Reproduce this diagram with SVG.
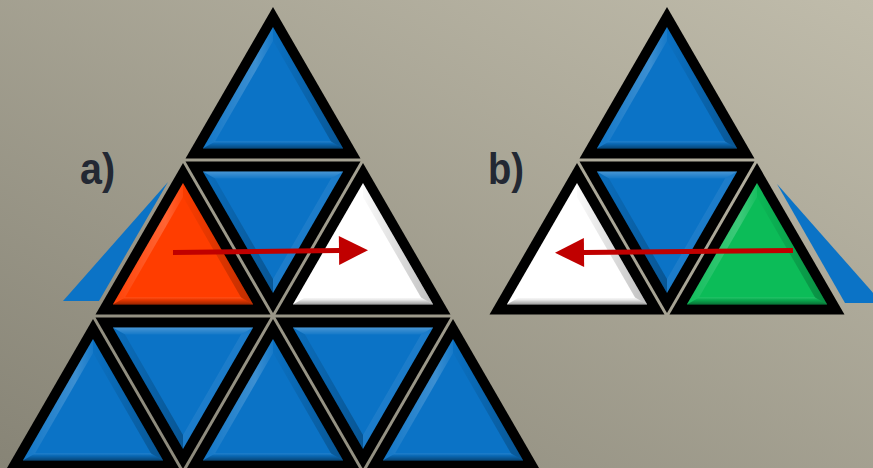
<svg xmlns="http://www.w3.org/2000/svg" xmlns:xlink="http://www.w3.org/1999/xlink" width="873" height="468" viewBox="0 0 873 468">
<style>
.lbl{font-family:"Liberation Sans","DejaVu Sans",sans-serif;font-weight:bold;font-size:45px;fill:#232833}
.blue{fill:#0b73c6}
.red{fill:#ff3d00}
.white{fill:#ffffff}
.green{fill:#0cbc58}
.arrow{stroke:#c00000;stroke-width:5;fill:none}
</style>
<defs>
<linearGradient id="bg" x1="1" y1="0" x2="0" y2="1">
<stop offset="0" stop-color="#c0bcab"/>
<stop offset="1" stop-color="#878476"/>
</linearGradient>
<linearGradient id="gBottom" x1="0" y1="0" x2="0" y2="1">
<stop offset="0" stop-color="#fff" stop-opacity="0.12"/>
<stop offset="0.3" stop-color="#000" stop-opacity="0.08"/>
<stop offset="1" stop-color="#000" stop-opacity="0.4"/>
</linearGradient>
<linearGradient id="gRight" x1="1" y1="0" x2="0" y2="0">
<stop offset="0" stop-color="#000" stop-opacity="0.25"/>
<stop offset="1" stop-color="#000" stop-opacity="0.02"/>
</linearGradient>
<linearGradient id="gLeft" x1="0" y1="0" x2="1" y2="0">
<stop offset="0" stop-color="#fff" stop-opacity="0.03"/>
<stop offset="0.75" stop-color="#fff" stop-opacity="0.2"/>
<stop offset="1" stop-color="#fff" stop-opacity="0.05"/>
</linearGradient>
<linearGradient id="gTop" x1="0" y1="0" x2="0" y2="1">
<stop offset="0" stop-color="#fff" stop-opacity="0.25"/>
<stop offset="1" stop-color="#fff" stop-opacity="0.04"/>
</linearGradient>
<linearGradient id="gDLeft" x1="0" y1="0" x2="1" y2="0">
<stop offset="0" stop-color="#000" stop-opacity="0.04"/>
<stop offset="1" stop-color="#000" stop-opacity="0.25"/>
</linearGradient>
<g id="tileUp">
<polygon points="0,-101 -87.47,50.5 87.47,50.5" fill="#000"/>
<polygon points="0,-81 -70.15,40.5 70.15,40.5"/>
<polygon points="0,-81 -70.15,40.5 -58.02,33.5 0,-67" fill="url(#gLeft)"/>
<polygon points="0,-81 70.15,40.5 58.02,33.5 0,-67" fill="url(#gRight)"/>
<polygon points="-70.15,40.5 70.15,40.5 58.02,33.5 -58.02,33.5" fill="url(#gBottom)"/>
</g>
<g id="tileDown">
<polygon points="-87.47,-50.5 87.47,-50.5 0,101" fill="#000"/>
<polygon points="-70.15,-40.5 70.15,-40.5 0,81"/>
<polygon points="-70.15,-40.5 70.15,-40.5 58.02,-33.5 -58.02,-33.5" fill="url(#gTop)"/>
<polygon points="-70.15,-40.5 0,81 0,67 -58.02,-33.5" fill="url(#gDLeft)"/>
<polygon points="70.15,-40.5 0,81 0,67 58.02,-33.5" fill="#fff" fill-opacity="0.07"/>
</g>
<marker id="head" markerUnits="userSpaceOnUse" markerWidth="30" markerHeight="30" viewBox="0 -15 30 30" refX="0" refY="0" orient="auto" overflow="visible">
<path d="M0,-14.5 L29,0 L0,14.5 z" fill="#c00000"/>
</marker>
</defs>
<rect width="873" height="468" fill="url(#bg)"/>

<g id="label-a"><text class="lbl" x="80" y="184" textLength="35" lengthAdjust="spacingAndGlyphs">a)</text></g>
<g id="label-b"><text class="lbl" x="488" y="184" textLength="36" lengthAdjust="spacingAndGlyphs">b)</text></g>

<g id="wedge-a"><polygon class="blue" points="168,182 63,301 99,301"/></g>
<g id="wedge-b"><polygon class="blue" points="777,184 882,303 845,303"/></g>

<g id="a-top"><use xlink:href="#tileUp" class="blue" transform="translate(273,108)"/></g>
<g id="a-red"><use xlink:href="#tileUp" class="red" transform="translate(183,264)"/></g>
<g id="a-mid"><use xlink:href="#tileDown" class="blue" transform="translate(273,212)"/></g>
<g id="a-white"><use xlink:href="#tileUp" class="white" transform="translate(363,264)"/></g>
<g id="a-b1"><use xlink:href="#tileUp" class="blue" transform="translate(93,420)"/></g>
<g id="a-b2"><use xlink:href="#tileDown" class="blue" transform="translate(183,368)"/></g>
<g id="a-b3"><use xlink:href="#tileUp" class="blue" transform="translate(273,420)"/></g>
<g id="a-b4"><use xlink:href="#tileDown" class="blue" transform="translate(363,368)"/></g>
<g id="a-b5"><use xlink:href="#tileUp" class="blue" transform="translate(453,420)"/></g>

<g id="b-top"><use xlink:href="#tileUp" class="blue" transform="translate(667,108)"/></g>
<g id="b-white"><use xlink:href="#tileUp" class="white" transform="translate(577,264)"/></g>
<g id="b-mid"><use xlink:href="#tileDown" class="blue" transform="translate(667,212)"/></g>
<g id="b-green"><use xlink:href="#tileUp" class="green" transform="translate(757,264)"/></g>

<g id="connectors">
<path class="arrow" d="M173,252.5 L339,250.5" marker-end="url(#head)"/>
<path class="arrow" d="M793,250.5 L584,252.5" marker-end="url(#head)"/>
</g>
</svg>
